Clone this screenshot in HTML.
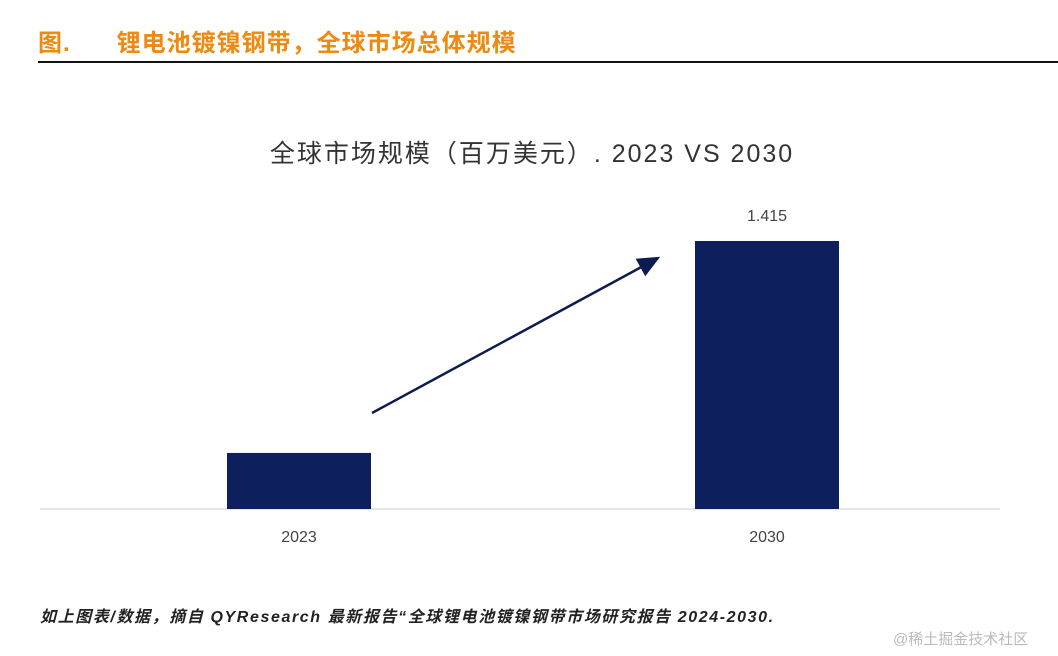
<!DOCTYPE html>
<html><head><meta charset="utf-8"><style>
body{margin:0;width:1058px;height:656px;background:#fff;overflow:hidden;position:relative;font-family:"Liberation Sans","Noto Sans CJK SC",sans-serif}
.hd{position:absolute;left:38px;top:23px;color:#ee8a12;font-weight:bold;font-size:24px;letter-spacing:1px}
.rule{position:absolute;left:38px;top:61px;width:1020px;height:2px;background:#111}
.foot{position:absolute;left:40px;top:603px;font-size:16px;font-style:italic;font-weight:bold;color:#222;letter-spacing:1.6px}
.wm{position:absolute;left:893px;top:628px;font-size:15px;color:#bbb}
</style></head><body>
<div class="hd">图.&nbsp;&nbsp;&nbsp;&nbsp;&nbsp;&nbsp;锂电池镀镍钢带，全球市场总体规模</div>
<div class="rule"></div>
<svg width="1058" height="656" style="position:absolute;left:0;top:0">
<defs><marker id="ah" markerWidth="10" markerHeight="10" refX="8" refY="5" orient="auto"><path d="M0,1 L9,5 L0,9 Z" fill="#0d1b4f"/></marker></defs>
<text x="532" y="162" text-anchor="middle" font-size="25" letter-spacing="2" fill="#333" font-family="Liberation Sans,Noto Sans CJK SC,sans-serif">全球市场规模（百万美元）. 2023 VS 2030</text>
<line x1="40" y1="509" x2="1000" y2="509" stroke="#ccc" stroke-width="1"/>
<line x1="372" y1="413" x2="658" y2="258" stroke="#0d1b4f" stroke-width="2.5" marker-end="url(#ah)"/>
<g id="bars"></g>
</svg>
<div class="foot">如上图表/数据，摘自 QYResearch 最新报告“全球锂电池镀镍钢带市场研究报告 2024-2030.</div>
<div class="wm">@稀土掘金技术社区</div>
<script>
const categories=["2023","2030"];
const values=[0.296,1.415];
const valueLabels=["","1.415"];
const base=509, scale=268/1.415;
function xPos(i){return 227+i*468;}
function yPos(v){return base-v*scale;}
const g=document.getElementById('bars');
const ns="http://www.w3.org/2000/svg";
categories.forEach((c,i)=>{
 const r=document.createElementNS(ns,'rect');
 r.setAttribute('x',xPos(i));r.setAttribute('y',yPos(values[i]));
 r.setAttribute('width',144);r.setAttribute('height',base-yPos(values[i]));
 r.setAttribute('fill','#0d1f5c');
 
 
 g.appendChild(r);
 const t=document.createElementNS(ns,'text');
 t.setAttribute('x',xPos(i)+72);t.setAttribute('y',542);t.setAttribute('text-anchor','middle');
 t.setAttribute('font-size','16');t.setAttribute('fill','#444');t.textContent=c;
 
 
 g.appendChild(t);
 if(valueLabels[i]){
 const l=document.createElementNS(ns,'text');
 l.setAttribute('x',xPos(i)+72);l.setAttribute('y',yPos(values[i])-20);l.setAttribute('text-anchor','middle');
 l.setAttribute('font-size','16');l.setAttribute('fill','#444');l.textContent=valueLabels[i];
 
 
 g.appendChild(l);}
});
</script>
</body></html>
